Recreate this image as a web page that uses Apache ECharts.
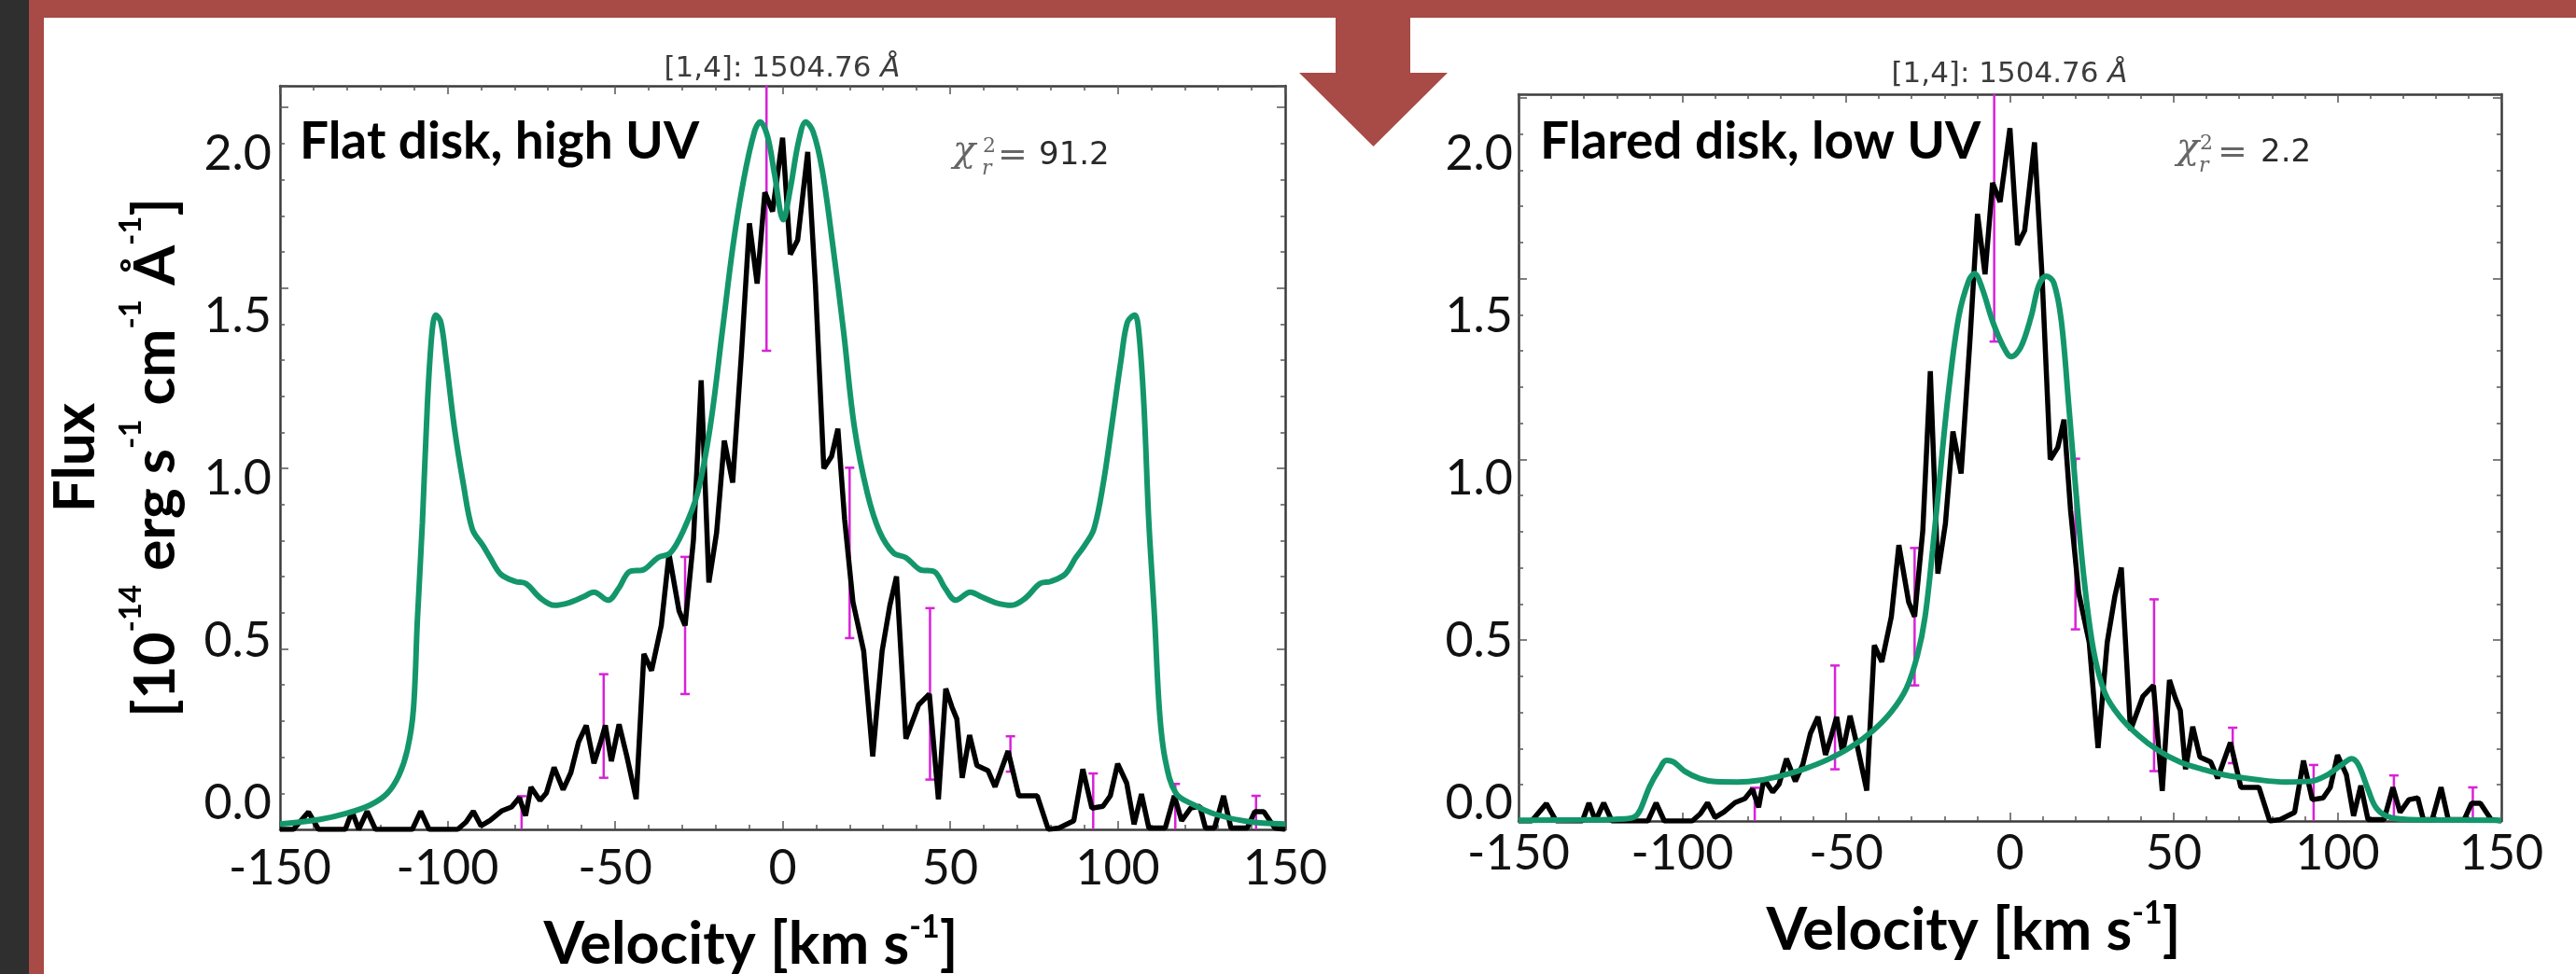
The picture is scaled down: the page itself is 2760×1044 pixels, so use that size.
<!DOCTYPE html>
<html>
<head>
<meta charset="utf-8">
<title>Flat disk vs flared disk, [1,4] 1504.76</title>
<script src="https://cdn.jsdelivr.net/npm/echarts@6/dist/echarts.min.js"></script>
<style>
  html, body { margin: 0; padding: 0; background: #fff; }
  #main { width: 2760px; height: 1044px; }
</style>
</head>
<body>
<div id="main"></div>
<script>
// observed line profile (same spectrum in both panels)
// velocity in km/s, flux in 1e-14 erg s-1 cm-2 A-1 (plot units)
var velObs = [-150, -146, -141.5, -138.5, -134, -130.5, -128.5, -126.5, -124, -121.5,
  -117, -114, -110.5, -108, -105.5, -101, -97, -94.5, -92.3, -90,
  -87.3, -83.9, -80.9, -78.6, -76.7, -75.1, -72.4, -70.5, -68.2, -65.5,
  -63.2, -60.9, -58.6, -56.3, -54.5, -52.9, -51.1, -48.8, -46.5, -43.7,
  -41.4, -39.1, -36.2, -33.9, -30.9, -29.1, -26.6, -24.3, -22.0, -19.7,
  -17.4, -14.9, -12.2, -9.9, -7.6, -5.3, -3.0, 0, 2.3, 4.5,
  7.5, 9.8, 12.3, 14.6, 16.5, 18.5, 21, 24.2, 26.9, 29.7,
  32, 34, 36.8, 40.6, 43.8, 46.5, 48.7, 50.5, 52, 53.6,
  55.8, 58, 61.3, 63.4, 67.3, 70.5, 76, 79.3, 82.5, 86.9,
  89.6, 92.3, 95.6, 97.8, 100, 102.7, 104.9, 107.1, 109.3, 114.2,
  116.9, 119.1, 121.8, 124.5, 126.2, 128.9, 131.6, 133.8, 138.7, 140.9,
  143.6, 146.9, 150];
var fluxObs = [0.0, 0.0, 0.048, 0.0, 0.0, 0.0, 0.05, 0.0, 0.05, 0.0,
  0.0, 0.0, 0.0, 0.05, 0.0, 0.0, 0.0, 0.02, 0.05, 0.01,
  0.025, 0.051, 0.062, 0.088, 0.038, 0.117, 0.08, 0.101, 0.172, 0.11,
  0.157, 0.242, 0.288, 0.183, 0.236, 0.288, 0.189, 0.291, 0.203, 0.084,
  0.486, 0.44, 0.565, 0.763, 0.605, 0.565, 0.803, 1.244, 0.684, 0.822,
  1.077, 0.961, 1.33, 1.679, 1.512, 1.765, 1.712, 1.916, 1.593, 1.633,
  1.877, 1.508, 1.0, 1.033, 1.11, 0.86, 0.63, 0.494, 0.202, 0.494,
  0.62, 0.701, 0.251, 0.345, 0.375, 0.083, 0.39, 0.34, 0.306, 0.143,
  0.261, 0.177, 0.163, 0.118, 0.217, 0.093, 0.093, 0.0, 0.004, 0.024,
  0.167, 0.059, 0.064, 0.093, 0.182, 0.128, 0.014, 0.098, 0.004, 0.004,
  0.093, 0.024, 0.059, 0.064, 0.004, 0.004, 0.093, 0.004, 0.004, 0.049,
  0.049, 0.004, 0.0];

// magenta error bars
var errVel  = [-77.9, -53.4, -29.1, -4.8, 20.0, 44.0, 68.0, 92.7, 117.2, 141.3];
var errLow  = [-0.02, 0.143, 0.375, 1.326, 0.53, 0.138, 0.16, -0.02, -0.02, -0.02];
var errHigh = [0.092, 0.43, 0.755, 2.4, 1.002, 0.613, 0.258, 0.155, 0.126, 0.093];

// model: flat disk, high UV
var flatVel = [-150, -138, -130, -123, -118, -114.5, -112, -110.2, -109, -107.5,
  -106, -104.6, -103.5, -102, -100.4, -98, -95.3, -92.6, -89.4, -87.3,
  -84.1, -79.8, -76.6, -72.3, -68.1, -63.8, -59.5, -56.3, -52.1, -48.9,
  -45.7, -41.4, -37.2, -33.5, -29.7, -25.4, -21.6, -18, -14.8, -11.6,
  -8.4, -6.7, -4.5, -2.4, 0.2, 2.3, 4.8, 6.9, 9.1, 11.8,
  15, 18.2, 21.4, 25.3, 28.9, 33.1, 36.8, 41, 45.3, 48.5,
  51.7, 56, 59.4, 63.6, 68.3, 72.5, 76.8, 80, 84.3, 87.5,
  90.1, 92.9, 95.7, 98.2, 101, 102.9, 105.1, 106.3, 107.8, 109.3,
  111, 112.5, 114.2, 117.4, 122.7, 129.1, 138.7, 150];
var flatFlux = [0.015, 0.028, 0.045, 0.068, 0.1, 0.15, 0.22, 0.33, 0.58, 0.85,
  1.18, 1.38, 1.425, 1.405, 1.3, 1.116, 0.958, 0.832, 0.786, 0.753,
  0.707, 0.687, 0.681, 0.641, 0.621, 0.628, 0.644, 0.657, 0.635, 0.668,
  0.714, 0.72, 0.753, 0.766, 0.826, 0.931, 1.116, 1.379, 1.617, 1.801,
  1.933, 1.96, 1.92, 1.815, 1.689, 1.775, 1.907, 1.96, 1.933, 1.828,
  1.617, 1.379, 1.116, 0.931, 0.826, 0.766, 0.753, 0.72, 0.714, 0.668,
  0.635, 0.657, 0.644, 0.628, 0.621, 0.641, 0.681, 0.687, 0.707, 0.753,
  0.786, 0.832, 0.958, 1.116, 1.3, 1.405, 1.425, 1.379, 1.182, 0.852,
  0.589, 0.325, 0.193, 0.1, 0.068, 0.042, 0.022, 0.015];

// model: flared disk, low UV
var flaredVel = [-150, -130, -117.5, -114.5, -112.9, -110, -107.2, -104.8, -102.6, -99.2,
  -94.6, -90, -83.1, -76.2, -69.4, -62.5, -55.6, -48.8, -41.9, -36.2,
  -31.6, -28.2, -25.9, -23.6, -21.3, -18.6, -15.6, -12.6, -10.8, -8.5,
  -5.3, -1.9, 0.4, 3.3, 6.5, 8.8, 11.1, 13.4, 15.7, 18,
  20.3, 22.6, 25.5, 29, 33.6, 39.3, 45.1, 51.9, 58.8, 65.7,
  74.9, 84, 92, 96.6, 101.2, 104.3, 106.4, 109.2, 111.9, 116.1,
  125.2, 150];
var flaredFlux = [0.002, 0.003, 0.006, 0.012, 0.03, 0.095, 0.14, 0.168, 0.163, 0.137,
  0.117, 0.109, 0.108, 0.113, 0.126, 0.145, 0.17, 0.203, 0.249, 0.302,
  0.367, 0.46, 0.565, 0.75, 0.961, 1.198, 1.396, 1.494, 1.514, 1.474,
  1.382, 1.31, 1.284, 1.31, 1.396, 1.481, 1.507, 1.488, 1.382, 1.145,
  0.895, 0.671, 0.473, 0.354, 0.288, 0.236, 0.196, 0.163, 0.143, 0.127,
  0.115, 0.108, 0.11, 0.126, 0.155, 0.172, 0.155, 0.09, 0.035, 0.01,
  0.003, 0.002];

// printed tick labels of the flux axis (overlaid on the slide)
var yTickValues = [0, 0.5, 1, 1.5, 2];
var yTickLabels = ['0.0', '0.5', '1.0', '1.5', '2.0'];

var RED = '#a84a45';
var DARK = '#2f2f2f';
var GREEN = '#13966b';
var MAGENTA = '#d822d8';
var FRAME = '#3a3a3a';
var TICK = '#555555';

var panels = [
  {
    grid: { left: 300, top: 92, width: 1077, height: 797 },
    dataMax: 2.06, labelMin: -0.0805, labelMax: 2.2098,
    labelMargin: 9, xLabelMargin: 16, nameGap: 88, namePad: 68,
    vel: flatVel, flux: flatFlux
  },
  {
    grid: { left: 1627, top: 101, width: 1053, height: 779 },
    dataMax: 2.01, labelMin: -0.0546, labelMax: 2.184,
    labelMargin: 6, xLabelMargin: 9, nameGap: 82, namePad: 78,
    vel: flaredVel, flux: flaredFlux
  }
];

function pairs(xs, ys) {
  return xs.map(function (x, i) { return [x, ys[i]]; });
}

function velAxis(gi, p, pos) {
  var ax = {
    type: 'value', gridIndex: gi, position: pos,
    min: -150, max: 150, interval: 50,
    axisLine: { onZero: false, lineStyle: { color: FRAME, width: 2.5 } },
    axisTick: { inside: true, length: 9, lineStyle: { color: TICK, width: 1.5 } },
    minorTick: { show: true, splitNumber: 5, length: 5, lineStyle: { color: TICK, width: 1.5 } },
    splitLine: { show: false },
    axisLabel: { show: false }
  };
  if (pos === 'bottom') {
    ax.axisLabel = { show: true, margin: p.xLabelMargin, fontFamily: 'Lato', fontSize: 52, color: '#111' };
    ax.name = '{b|Velocity [km s}{s|-1}{b|]}';
    ax.nameLocation = 'middle';
    ax.nameGap = p.nameGap;
    ax.nameTextStyle = {
      padding: [0, p.namePad, 0, 0],
      rich: {
        b: { fontFamily: 'Lato', fontWeight: 'bold', fontSize: 63, lineHeight: 72, color: '#000' },
        s: { fontFamily: 'Lato', fontWeight: 'bold', fontSize: 34, lineHeight: 52, verticalAlign: 'top', color: '#000' }
      }
    };
  }
  return ax;
}

// tick-only flux axis (the plot's own ticks)
function tickAxis(gi, p, pos, step, len, showLine) {
  return {
    type: 'value', gridIndex: gi, position: pos, min: 0, max: p.dataMax, interval: step,
    axisLine: { show: showLine, onZero: false, lineStyle: { color: FRAME, width: 2.5 } },
    axisTick: { show: true, inside: true, length: len, lineStyle: { color: TICK, width: 1.5 } },
    axisLabel: { show: false },
    splitLine: { show: false }
  };
}

// axis carrying the printed flux labels
function labelAxis(gi, p, withName) {
  var ax = {
    type: 'value', gridIndex: gi, position: 'left', min: p.labelMin, max: p.labelMax,
    axisLine: { show: false, onZero: false },
    axisTick: { show: false },
    splitLine: { show: false },
    axisLabel: {
      show: true, customValues: yTickValues, margin: p.labelMargin,
      fontFamily: 'Lato', fontSize: 52, color: '#111',
      formatter: function (v) {
        var k = yTickValues.indexOf(v);
        return k >= 0 ? yTickLabels[k] : v.toFixed(1);
      }
    }
  };
  if (withName) {
    ax.name = '{a|Flux}\n{b|[10}{s|-14}{b| erg s}{s|-1}{b| cm}{s|-1}{b| Å}{s|-1}{b|]}';
    ax.nameLocation = 'middle';
    ax.nameGap = 90;
    ax.nameRotate = 90;
    ax.nameTextStyle = {
      rich: {
        a: { fontFamily: 'Lato', fontWeight: 'bold', fontSize: 62, lineHeight: 86, color: '#000' },
        b: { fontFamily: 'Lato', fontWeight: 'bold', fontSize: 62, lineHeight: 86, color: '#000' },
        s: { fontFamily: 'Lato', fontWeight: 'bold', fontSize: 33, lineHeight: 58, verticalAlign: 'top', color: '#000' }
      }
    };
  }
  return ax;
}

function errorBars(params, api) {
  var cs = params.coordSys;
  var x = api.coord([api.value(0), 0])[0];
  var yLo = api.coord([0, api.value(1)])[1];
  var yHi = api.coord([0, api.value(2)])[1];
  var top = cs.y, bot = cs.y + cs.height;
  var st = { stroke: MAGENTA, lineWidth: 2.5 };
  var kids = [{ type: 'line', shape: { x1: x, y1: Math.min(yLo, bot), x2: x, y2: Math.max(yHi, top) }, style: st }];
  if (yLo <= bot) kids.push({ type: 'line', shape: { x1: x - 5, y1: yLo, x2: x + 5, y2: yLo }, style: st });
  if (yHi >= top) kids.push({ type: 'line', shape: { x1: x - 5, y1: yHi, x2: x + 5, y2: yHi }, style: st });
  return { type: 'group', children: kids };
}

var grids = [], xAxes = [], yAxes = [], series = [];
panels.forEach(function (p, i) {
  grids.push(Object.assign({ show: false, containLabel: false, outerBoundsMode: 'none' }, p.grid));
  xAxes.push(velAxis(i, p, 'bottom'));
  xAxes.push(velAxis(i, p, 'top'));
  var y0 = yAxes.length;
  yAxes.push(tickAxis(i, p, 'left', 0.5, 9, true));
  yAxes.push(tickAxis(i, p, 'left', 0.1, 5, false));
  yAxes.push(labelAxis(i, p, i === 0));
  yAxes.push(tickAxis(i, p, 'right', 0.5, 9, true));
  yAxes.push(tickAxis(i, p, 'right', 0.1, 5, false));

  series.push({
    type: 'custom', xAxisIndex: i * 2, yAxisIndex: y0, silent: true,
    renderItem: errorBars, encode: { x: 0, y: [1, 2] },
    data: errVel.map(function (v, k) { return [v, errLow[k], errHigh[k]]; }),
    z: 2
  });
  series.push({
    type: 'line', xAxisIndex: i * 2, yAxisIndex: y0, silent: true,
    data: pairs(velObs, fluxObs), symbol: 'none', showSymbol: false,
    lineStyle: { color: '#000', width: 5.5 }, itemStyle: { color: '#000' }, z: 3
  });
  series.push({
    type: 'line', xAxisIndex: i * 2, yAxisIndex: y0, silent: true,
    data: pairs(p.vel, p.flux), symbol: 'none', showSymbol: false, smooth: 0.35,
    lineStyle: { color: GREEN, width: 6 }, itemStyle: { color: GREEN }, z: 4
  });
});

function txt(x, y, text, font, fill, align) {
  return {
    type: 'text', x: x, y: y, z: 10, silent: true,
    style: { text: text, font: font, fill: fill, align: align || 'left', verticalAlign: 'middle',
      textAlign: align || 'left', textVerticalAlign: 'middle' }
  };
}

var graphics = [
  { type: 'rect', shape: { x: 0, y: 0, width: 31, height: 1044 }, style: { fill: DARK } },
  { type: 'rect', shape: { x: 31, y: 0, width: 16, height: 1044 }, style: { fill: RED } },
  { type: 'rect', shape: { x: 31, y: 0, width: 2729, height: 19 }, style: { fill: RED } },
  { type: 'rect', shape: { x: 1431, y: 0, width: 80, height: 80 }, style: { fill: RED } },
  { type: 'polygon', shape: { points: [[1392, 78], [1551, 78], [1471.5, 157]] }, style: { fill: RED } },

  txt(321, 152, 'Flat disk, high UV', 'bold 55px Lato', '#000'),
  txt(1650, 152, 'Flared disk, low UV', 'bold 55px Lato', '#000'),

  {
    type: 'text', x: 838, y: 74, z: 10, silent: true,
    style: { text: '[1,4]: 1504.76 {it|Å}', font: '31px "DejaVu Sans"', fill: '#3c3c3c',
      align: 'center', verticalAlign: 'middle', textAlign: 'center', textVerticalAlign: 'middle',
      rich: { it: { fontFamily: 'DejaVu Sans', fontStyle: 'italic', fontSize: 31, fill: '#3c3c3c' } } }
  },
  {
    type: 'text', x: 2153, y: 80, z: 10, silent: true,
    style: { text: '[1,4]: 1504.76 {it|Å}', font: '31px "DejaVu Sans"', fill: '#3c3c3c',
      align: 'center', verticalAlign: 'middle', textAlign: 'center', textVerticalAlign: 'middle',
      rich: { it: { fontFamily: 'DejaVu Sans', fontStyle: 'italic', fontSize: 31, fill: '#3c3c3c' } } }
  },

  // reduced chi-square, left
  txt(1021, 163, 'χ', 'italic 40px "DejaVu Serif"', '#666'),
  txt(1053, 157, '2', '22px "DejaVu Serif"', '#666'),
  txt(1052, 181, 'r', 'italic 22px "DejaVu Serif"', '#666'),
  txt(1069, 168, '=', '38px "DejaVu Serif"', '#666'),
  txt(1113, 167, '91.2', '34px "DejaVu Sans"', '#2a2a2a'),
  // reduced chi-square, right
  txt(2332, 160, 'χ', 'italic 40px "DejaVu Serif"', '#666'),
  txt(2357, 154, '2', '22px "DejaVu Serif"', '#666'),
  txt(2356, 178, 'r', 'italic 22px "DejaVu Serif"', '#666'),
  txt(2376, 165, '=', '38px "DejaVu Serif"', '#666'),
  txt(2422, 164, '2.2', '34px "DejaVu Sans"', '#2a2a2a'),

  // slide number, mostly below the visible area
  txt(2722, 1056, '12', '30px Lato', '#999')
];

var chart = echarts.init(document.getElementById('main'));
chart.setOption({
  animation: false,
  backgroundColor: '#fff',
  grid: grids,
  xAxis: xAxes,
  yAxis: yAxes,
  series: series,
  graphic: graphics
});
</script>
</body>
</html>
